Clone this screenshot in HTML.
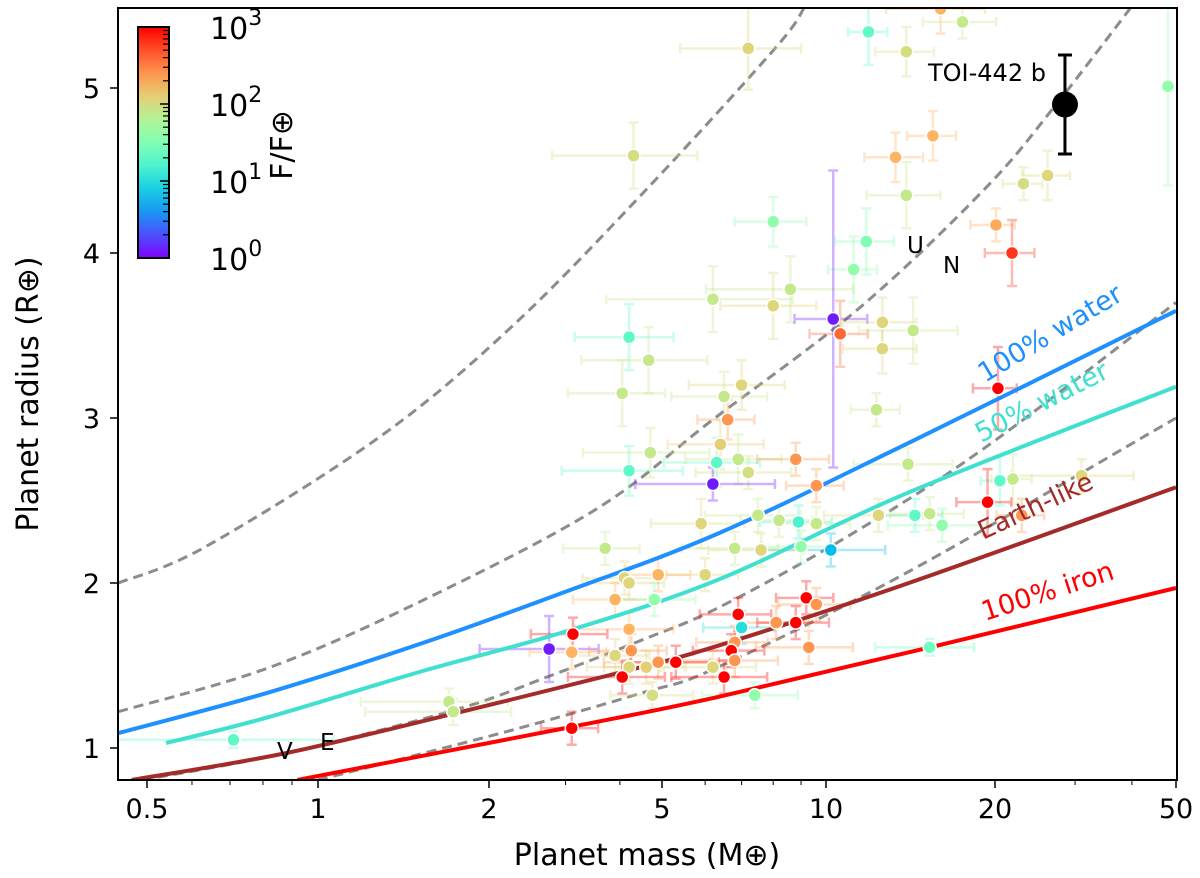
<!DOCTYPE html>
<html><head><meta charset="utf-8"><style>
body{margin:0;background:#fff}
svg{display:block;font-family:"DejaVu Sans","Liberation Sans",sans-serif}
</style></head><body>
<svg id="chart" width="1200" height="878" viewBox="0 0 1200 878">
<defs>
<linearGradient id="cbg" x1="0" y1="1" x2="0" y2="0"></linearGradient>
<clipPath id="clip"><rect x="118" y="8" width="1059" height="772"/></clipPath>
</defs>
<g id="plot" clip-path="url(#clip)"></g>
<g id="axes"></g>
</svg>
<script>
// ---- data ----
const xTicks=[0.5,1,2,5,10,20,50];
const xTickLabels=["0.5","1","2","5","10","20","50"];
const yTicks=[1,2,3,4,5];
const yTickLabels=["1","2","3","4","5"];
const water100M=[0.445,0.825,1.54,2.95,6.34,14.05,50];
const water100R=[1.09,1.34,1.64,1.94,2.30,2.85,3.65];
const water50M=[0.54,0.825,1.54,2.95,6.34,14.05,50];
const water50R=[1.03,1.19,1.47,1.70,2.02,2.55,3.19];
const earthM=[0.47,0.88,1.74,3.9,6.34,14.05,50];
const earthR=[0.806,0.97,1.21,1.45,1.62,2.0,2.58];
const ironM=[0.92,3.12,6.34,15.3,50];
const ironR=[0.806,1.13,1.31,1.61,1.97];
const dash1M=[0.445,0.634,1.29,2.27,4.62,8.06,9.1];
const dash1R=[2.0,2.22,2.89,3.56,4.39,5.24,5.48];
const dash2M=[0.445,0.825,1.54,3.54,6.2,11.5,19.2,26.9,39.6];
const dash2R=[1.22,1.49,1.90,2.45,2.99,3.67,4.39,4.88,5.48];
const dash3M=[0.49,0.88,1.74,2.72,4.45,6.34,10.9,19.2,50];
const dash3R=[0.806,0.97,1.23,1.43,1.65,1.85,2.28,2.82,3.70];
const dash4M=[1.0,2.13,4.45,6.34,14.05,50];
const dash4R=[0.806,1.09,1.33,1.49,2.07,3.0];
// planets: mass, radius, log10 flux
const pMass=[7.2,11.9,13.9,16.0,17.5,48,4.3,13.3,15.5,13.9,23.1,26.1,8.0,11.8,11.2,20.1,21.8,8.6,6.2,8.0,10.3,10.6,12.6,12.6,14.3,4.2,4.66,4.05,7.0,20.3,6.5,6.6,12.3,4.2,4.7,6.4,6.3,6.9,7.2,8.8,6.2,14.0,20.5,21.9,31.0,19.4,22.9,9.6,5.9,7.5,8.2,8.9,9.6,12.4,10.2,14.4,15.3,16.1,6.8,7.6,9.0,3.7,6.0,4.1,4.2,4.9,3.9,4.8,9.2,9.6,6.9,7.0,8.1,8.8,4.2,6.8,9.3,3.12,2.75,3.1,4.25,3.9,4.2,4.6,4.9,5.3,6.2,6.7,6.8,6.5,4.05,4.75,7.4,15.3,3.1,1.7,1.73,0.71];
const pRad=[5.24,5.34,5.22,5.48,5.4,5.01,4.59,4.58,4.71,4.35,4.42,4.47,4.19,4.07,3.9,4.17,4.0,3.78,3.72,3.68,3.6,3.51,3.58,3.42,3.53,3.49,3.35,3.15,3.2,3.18,3.13,2.99,3.05,2.68,2.79,2.84,2.73,2.75,2.67,2.75,2.6,2.72,2.62,2.63,2.65,2.49,2.41,2.59,2.36,2.41,2.38,2.37,2.36,2.41,2.2,2.41,2.42,2.35,2.21,2.2,2.22,2.21,2.05,2.03,2.0,2.05,1.9,1.9,1.91,1.87,1.81,1.73,1.76,1.76,1.72,1.64,1.61,1.69,1.6,1.58,1.59,1.56,1.49,1.49,1.52,1.52,1.49,1.59,1.53,1.43,1.43,1.32,1.32,1.61,1.12,1.28,1.22,1.05];
const pFlux=[2.05,1.3,2.0,2.25,1.9,1.6,2.0,2.25,2.25,1.9,2.0,2.05,1.6,1.5,1.6,2.3,2.8,1.9,1.9,2.05,0.1,2.6,2.05,2.05,1.9,1.3,1.9,1.9,2.05,3.0,1.9,2.4,1.9,1.3,1.9,2.1,1.3,1.9,2.0,2.4,0.1,1.9,1.3,1.9,2.05,3.0,2.4,2.4,2.05,1.9,1.9,1.2,1.9,2.05,0.8,1.3,1.9,1.6,1.9,2.05,1.6,1.9,2.05,2.05,2.05,2.25,2.25,1.6,3.0,2.4,3.0,1.0,2.4,3.0,2.25,2.4,2.4,3.0,0.1,2.25,2.4,2.05,2.05,2.1,2.4,3.0,2.05,3.0,2.4,3.0,3.0,2.0,1.6,1.4,3.0,1.9,1.9,1.3];
const pMassErr=[0.25,0.08,0.12,0.2,0.15,0.01,0.35,0.12,0.1,0.15,0.1,0.12,0.15,0.12,0.1,0.1,0.12,0.3,0.4,0.2,0.15,0.12,0.15,0.15,0.2,0.25,0.3,0.25,0.2,0.1,0.2,0.12,0.1,0.3,0.3,0.2,0.2,0.2,0.2,0.15,0.3,0.2,0.08,0.1,0.3,0.12,0.12,0.12,0.2,0.2,0.15,0.15,0.15,0.2,0.25,0.12,0.15,0.2,0.2,0.2,0.15,0.2,0.15,0.2,0.2,0.15,0.2,0.2,0.12,0.15,0.15,0.15,0.15,0.15,0.25,0.15,0.2,0.2,0.3,0.2,0.2,0.2,0.2,0.2,0.25,0.2,0.2,0.15,0.2,0.2,0.25,0.2,0.2,0.2,0.15,0.3,0.3,0.5];
const pRadErr=[0.25,0.2,0.15,0.15,0.1,0.6,0.2,0.15,0.15,0.2,0.1,0.15,0.15,0.2,0.2,0.1,0.2,0.2,0.2,0.2,0.9,0.2,0.15,0.15,0.2,0.2,0.2,0.2,0.15,0.25,0.15,0.12,0.1,0.15,0.15,0.15,0.15,0.15,0.1,0.1,0.1,0.1,0.15,0.15,0.1,0.2,0.1,0.1,0.15,0.1,0.1,0.1,0.1,0.1,0.1,0.1,0.1,0.1,0.1,0.1,0.1,0.1,0.1,0.1,0.1,0.1,0.1,0.1,0.1,0.1,0.1,0.1,0.1,0.1,0.1,0.1,0.1,0.1,0.2,0.1,0.1,0.1,0.1,0.1,0.1,0.1,0.1,0.1,0.1,0.1,0.1,0.08,0.08,0.05,0.1,0.08,0.08,0.05];
const toiMass=[28.5], toiRad=[4.9], toiRadErr=[0.3];
const cbTicks=[0,1,2,3];
const cbTickLabels=["0","1","2","3"];

// ---- scales ----
const xPix=[147,318,489,662,826,995,1176];
function X(m){
  const l=Math.log10(m), L=xTicks.map(Math.log10);
  let i=0; while(i<L.length-2 && l>L[i+1]) i++;
  return xPix[i]+(l-L[i])/(L[i+1]-L[i])*(xPix[i+1]-xPix[i]);
}
function Y(r){return 748-(r-1)*165;}
function CB(f){return 258-f*77;}
function rainbow(t){
  t=Math.max(0,Math.min(1,t));
  const c=v=>Math.round(Math.max(0,Math.min(1,v))*255);
  return `rgb(${c(Math.abs(2*t-0.5))},${c(Math.sin(Math.PI*t))},${c(Math.cos(Math.PI*t/2))})`;
}
const NS="http://www.w3.org/2000/svg";
function mk(tag,attrs,parent){const e=document.createElementNS(NS,tag);for(const k in attrs)e.setAttribute(k,attrs[k]);parent.appendChild(e);return e;}
const plot=document.getElementById('plot'), axes=document.getElementById('axes');

const g=document.getElementById('cbg');
for(let i=0;i<=10;i++){mk('stop',{offset:i/10,'stop-color':rainbow(i/10)},g);}

function smoothPath(P){
  let d='M'+P[0][0].toFixed(1)+','+P[0][1].toFixed(1);
  for(let i=0;i<P.length-1;i++){
    const p0=P[Math.max(0,i-1)],p1=P[i],p2=P[i+1],p3=P[Math.min(P.length-1,i+2)];
    const c1=[p1[0]+(p2[0]-p0[0])/6,p1[1]+(p2[1]-p0[1])/6];
    const c2=[p2[0]-(p3[0]-p1[0])/6,p2[1]-(p3[1]-p1[1])/6];
    d+=` C${c1[0].toFixed(1)},${c1[1].toFixed(1)} ${c2[0].toFixed(1)},${c2[1].toFixed(1)} ${p2[0].toFixed(1)},${p2[1].toFixed(1)}`;
  }
  return d;
}
function curve(M,R,color,w,dash,name){
  const P=M.map((m,i)=>[X(m),Y(R[i])]);
  const p=mk('path',{d:smoothPath(P),fill:'none',stroke:color,'stroke-width':w},plot);
  if(dash)p.setAttribute('stroke-dasharray',dash);
  
  
}
curve(dash1M,dash1R,'#8c8c8c',3,'10,6','dashed-model-1');
curve(dash2M,dash2R,'#8c8c8c',3,'10,6','dashed-model-2');
curve(dash3M,dash3R,'#8c8c8c',3,'10,6','dashed-model-3');
curve(dash4M,dash4R,'#8c8c8c',3,'10,6','dashed-model-4');

for(let i=0;i<pMass.length;i++){
  const col=rainbow(pFlux[i]/3);
  const x=X(pMass[i]),y=Y(pRad[i]);
  const x1=X(pMass[i]*(1-pMassErr[i])),x2=X(pMass[i]*(1+pMassErr[i]));
  const y1=Y(pRad[i]-pRadErr[i]),y2=Y(pRad[i]+pRadErr[i]);
  const eg=mk('g',{stroke:col,'stroke-width':2.5,opacity:0.33},plot);
  
  
  mk('line',{x1:x1,y1:y,x2:x2,y2:y},eg);
  mk('line',{x1:x,y1:y1,x2:x,y2:y2},eg);
  mk('line',{x1:x1,y1:y-5,x2:x1,y2:y+5},eg);
  mk('line',{x1:x2,y1:y-5,x2:x2,y2:y+5},eg);
  mk('line',{x1:x-5,y1:y1,x2:x+5,y2:y1},eg);
  mk('line',{x1:x-5,y1:y2,x2:x+5,y2:y2},eg);
}
curve(water100M,water100R,'#1e90ff',4,null,'water-100-curve');
curve(water50M,water50R,'#40e0d0',4,null,'water-50-curve');
curve(earthM,earthR,'#a52a2a',4,null,'earth-like-curve');
curve(ironM,ironR,'#ff0000',4,null,'iron-100-curve');
for(let i=0;i<pMass.length;i++){
  const c=mk('circle',{cx:X(pMass[i]),cy:Y(pRad[i]),r:6.5,fill:rainbow(pFlux[i]/3),stroke:'#fff','stroke-width':1.5},plot);
  
  
}
{
  const x=X(toiMass[0]),y=Y(toiRad[0]);
  const tg=mk('g',{},plot);
  
  
  mk('line',{x1:x,y1:Y(toiRad[0]-toiRadErr[0]),x2:x,y2:Y(toiRad[0]+toiRadErr[0]),stroke:'#000','stroke-width':3},tg);
  mk('line',{x1:x-7,y1:Y(toiRad[0]-toiRadErr[0]),x2:x+7,y2:Y(toiRad[0]-toiRadErr[0]),stroke:'#000','stroke-width':3},tg);
  mk('line',{x1:x-7,y1:Y(toiRad[0]+toiRadErr[0]),x2:x+7,y2:Y(toiRad[0]+toiRadErr[0]),stroke:'#000','stroke-width':3},tg);
  mk('circle',{cx:x,cy:y,r:13,fill:'#000'},tg);
}
function txt(x,y,s,size,attrs,name,parent){
  const t=mk('text',Object.assign({x:x,y:y,'font-size':size},attrs||{}),parent||plot);
  t.textContent=s;
  
  
  return t;
}
txt(928,81,'TOI-442 b',24,{},'toi-442b-label');
txt(907,253,'U',23,{},'uranus-label');
txt(943,273,'N',23,{},'neptune-label');
txt(277,759,'V',23,{},'venus-label');
txt(320,750,'E',23,{},'earth-label');
txt(985,383,'100% water',27,{fill:'#1e90ff',transform:'rotate(-31 985 383)'},'water-100-label');
txt(981,443,'50% water',27,{fill:'#40e0d0',transform:'rotate(-27 981 443)'},'water-50-label');
txt(983,540,'Earth-like',26,{fill:'#a52a2a',transform:'rotate(-25 983 540)'},'earth-like-label');
txt(985,621,'100% iron',27,{fill:'#ff0000',transform:'rotate(-18 985 621)'},'iron-100-label');

const cb=mk('rect',{x:138,y:27,width:31,height:231,fill:'url(#cbg)',stroke:'#000','stroke-width':2},axes);


for(let d=0;d<3;d++)for(let k=2;k<=9;k++){
  const y=CB(d+Math.log10(k));
  mk('line',{x1:169,y1:y,x2:163,y2:y,stroke:'#000','stroke-width':1.2},axes);
}
cbTicks.forEach((f,i)=>{
  const y=CB(f);
  mk('line',{x1:169,y1:y,x2:160,y2:y,stroke:'#000','stroke-width':1.5},axes);
  const t=txt(210,y+12,'10',30,{},'colorbar-tick-label',axes);
  const s=mk('tspan',{dy:-14,'font-size':22},t);s.textContent=cbTickLabels[i];
});
txt(0,0,'F/F⊕',30,{transform:'translate(292 145) rotate(-90)','text-anchor':'middle'},'colorbar-title',axes);

const fr=mk('rect',{x:118,y:8,width:1059,height:772,fill:'none',stroke:'#000','stroke-width':2},axes);


xTicks.forEach((m,i)=>{
  const x=X(m);
  mk('line',{x1:x,y1:780,x2:x,y2:788,stroke:'#000','stroke-width':1.5},axes);
  txt(x,818,xTickLabels[i],27,{'text-anchor':'middle'},'x-tick-label',axes);
});
[0.6,0.7,0.8,0.9,3,4,6,7,8,9,30,40].forEach(m=>{
  const x=X(m);
  mk('line',{x1:x,y1:780,x2:x,y2:785,stroke:'#000','stroke-width':1},axes);
});
yTicks.forEach((r,i)=>{
  const y=Y(r);
  mk('line',{x1:118,y1:y,x2:110,y2:y,stroke:'#000','stroke-width':1.5},axes);
  txt(100,y+10,yTickLabels[i],27,{'text-anchor':'end'},'y-tick-label',axes);
});
txt(647,865,'Planet mass (M⊕)',30,{'text-anchor':'middle'},'x-axis-title',axes);
txt(0,0,'Planet radius (R⊕)',30,{transform:'translate(38 394) rotate(-90)','text-anchor':'middle'},'y-axis-title',axes);
</script>
</body></html>
